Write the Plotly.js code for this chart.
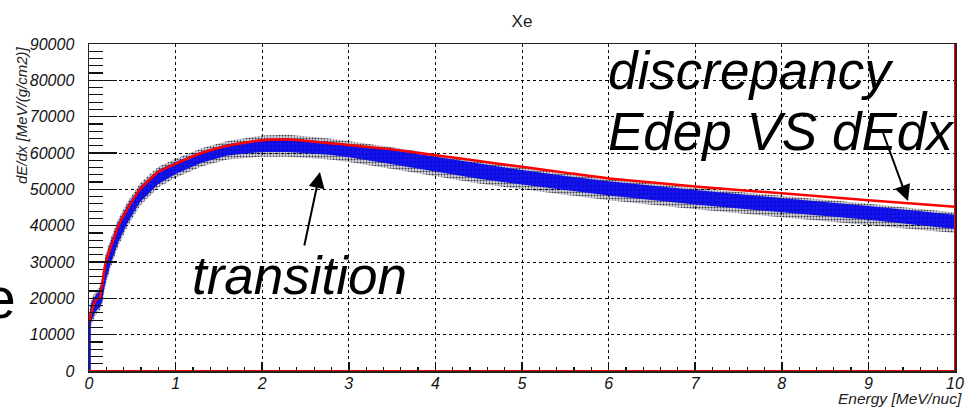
<!DOCTYPE html>
<html>
<head>
<meta charset="utf-8">
<script src="https://cdn.plot.ly/plotly-3.0.1.min.js"></script>
<style>html,body{margin:0;padding:0;background:#fff;}#chart{width:967px;height:407px;}</style>
</head>
<body>
<div id="chart"></div>
<script>
// ---- data ----
const chartTitle = "Xe";
const xTitle = "Energy [MeV/nuc]";
const yTitle = "dE/dx [MeV/(g/cm2)]";

// red curve (dE/dx table)
const redX = [0, 0.05, 0.08, 0.12, 0.15, 0.19, 0.25, 0.34, 0.45, 0.59, 0.8, 1.0, 1.3, 1.6, 2.0, 2.3, 2.78, 3.0, 3.5, 4.0, 4.5, 5.0, 5.5, 6.0, 7.0, 8.0, 9.0, 10.0];
const redY = [13600, 18000, 19600, 20000, 23500, 29600, 34000, 40000, 44800, 50000, 54800, 57000, 60000, 62000, 63500, 63700, 62700, 62200, 61000, 59400, 57800, 56200, 54600, 53000, 50800, 48900, 47000, 45200];
// red outline of the histogram frame (bottom and right edge)
const redFrameX = [0, 10, 10];
const redFrameY = [0, 0, 90000];

// blue Edep band (simulated points), edges
const bandX =     [0, 0.03, 0.08, 0.12, 0.15, 0.19, 0.25, 0.34, 0.45, 0.59, 0.8, 1.0, 1.3, 1.6, 2.0, 2.3, 2.78, 3.0, 3.5, 4.0, 4.5, 5.0, 5.5, 6.0, 7.0, 8.0, 9.0, 10.0];
const coreLow =   [11000, 14000, 16500, 17500, 19000, 24500, 29500, 35500, 41000, 46500, 51500, 54200, 57300, 59300, 60300, 60300, 59500, 58800, 56900, 54900, 52900, 51300, 49700, 48300, 45800, 43700, 41600, 39100];
const coreHigh =  [15000, 19000, 21000, 22000, 25000, 31000, 35500, 41000, 45800, 50800, 55300, 57500, 60400, 62400, 63800, 64000, 63000, 62400, 60800, 59000, 57000, 55300, 53700, 52200, 49800, 47700, 45400, 43000];
const outerLow =  [10000, 13000, 15500, 16500, 18000, 23500, 28500, 34500, 40000, 45500, 50500, 53200, 56300, 58200, 59000, 59000, 58200, 57500, 55600, 53500, 51600, 50000, 48400, 47000, 44500, 42400, 40300, 38000];
const outerHigh = [16000, 20000, 22000, 23000, 26000, 32000, 36500, 42000, 46800, 51700, 56200, 58400, 61300, 63300, 64800, 65000, 64000, 63300, 61600, 59700, 57700, 56000, 54300, 52800, 50400, 48300, 46000, 43600];
// low-energy stem of the band at E ~ 0
const stemX = [0.01, 0.01];
const stemY = [0, 13000];

const xTickVals = [0,1,2,3,4,5,6,7,8,9,10];
const yTickVals = [0,10000,20000,30000,40000,50000,60000,70000,80000,90000];

// ---- layout helpers (pixel -> paper) ----
const L = 89, R = 955, T = 44, B = 371;
const px = p => (p - L) / (R - L);
const py = p => (B - p) / (B - T);

const FAM = "Liberation Sans, Arial, sans-serif";
const tickFont = {family: FAM, size: 16, color: "#111", style: "italic"};
const bigFont = {family: FAM, size: 53, color: "#000", style: "italic"};
const clear = {width: 0, color: "rgba(0,0,0,0)"};

const traces = [
  {x: bandX, y: outerLow, mode: "lines", line: clear, hoverinfo: "skip"},
  {x: bandX, y: outerHigh, mode: "lines", line: clear, fill: "tonexty", fillcolor: "rgba(0,0,0,0)",
   fillpattern: {shape: ".", fgcolor: "#000", fgopacity: 0.75, bgcolor: "rgba(90,90,140,0.25)", size: 3, solidity: 0.35}, hoverinfo: "skip"},
  {x: bandX, y: coreLow, mode: "lines", line: clear, hoverinfo: "skip"},
  {x: bandX, y: coreHigh, mode: "lines", line: clear, fill: "tonexty", fillcolor: "#1010f0",
   fillpattern: {shape: ".", fgcolor: "#000020", fgopacity: 0.5, bgcolor: "#1212f2", size: 4, solidity: 0.15}, hoverinfo: "skip"},
  {x: stemX, y: stemY, mode: "lines", line: {width: 2, color: "#1414f0"}},
  {x: redFrameX, y: redFrameY, mode: "lines", line: {width: 2, color: "#ff0000"}, cliponaxis: false},
  {x: redX, y: redY, mode: "lines", line: {width: 2.5, color: "#ff0000", shape: "spline", smoothing: 0.5}}
];

const layout = {
  width: 967, height: 407,
  margin: {l: L, r: 967 - R, t: T, b: 407 - B, pad: 0},
  paper_bgcolor: "#fff", plot_bgcolor: "#fff",
  showlegend: false,
  title: {text: chartTitle, x: 522/967, xanchor: "center", y: 1 - 21/407, yanchor: "middle",
          font: {family: FAM, size: 17, color: "#222"}},
  xaxis: {
    range: [0, 10], tickvals: xTickVals, ticktext: xTickVals.map(String),
    ticks: "inside", ticklen: 9, tickwidth: 1.5, tickcolor: "#111",
    minor: {dtick: 0.2, ticks: "inside", ticklen: 4.5, tickwidth: 1.2, tickcolor: "#111", showgrid: false},
    showgrid: true, gridcolor: "#000", griddash: "dot", gridwidth: 1,
    showline: true, linecolor: "#222", linewidth: 1.5, mirror: true,
    zeroline: false, tickfont: tickFont, ticklabelstandoff: -3, fixedrange: true
  },
  yaxis: {
    range: [0, 90000], tickvals: yTickVals, ticktext: yTickVals.map(String),
    ticks: "inside", ticklen: 28, tickwidth: 1.5, tickcolor: "#111",
    minor: {dtick: 2000, ticks: "inside", ticklen: 14, tickwidth: 1.2, tickcolor: "#111", showgrid: false},
    showgrid: true, gridcolor: "#000", griddash: "dot", gridwidth: 1,
    showline: true, linecolor: "#222", linewidth: 1.5, mirror: true,
    zeroline: false, tickfont: tickFont, ticklabelstandoff: 10, fixedrange: true
  },
  annotations: [
    {text: yTitle, xref: "paper", yref: "paper", x: px(21), y: 1, xanchor: "center", yanchor: "top",
     textangle: -90, showarrow: false, font: {family: FAM, size: 15, color: "#222", style: "italic"}},
    {text: xTitle, xref: "paper", yref: "paper", x: px(964), y: py(398), xanchor: "right", yanchor: "middle",
     showarrow: false, font: {family: FAM, size: 15.5, color: "#222", style: "italic"}},
    {text: "discrepancy", xref: "paper", yref: "paper", x: px(606), y: py(70), xanchor: "left", yanchor: "middle",
     showarrow: false, font: bigFont},
    {text: "Edep VS dEdx", xref: "paper", yref: "paper", x: px(606), y: py(131), xanchor: "left", yanchor: "middle",
     showarrow: false, font: bigFont},
    {text: "transition", xref: "paper", yref: "paper", x: px(190), y: py(275), xanchor: "left", yanchor: "middle",
     showarrow: false, font: bigFont},
    {text: "e", xref: "paper", yref: "paper", x: px(18), y: py(298), xanchor: "right", yanchor: "middle",
     showarrow: false, font: {family: FAM, size: 57, color: "#000"}},
    {text: "", xref: "paper", yref: "paper", x: px(320), y: py(172), axref: "pixel", ayref: "pixel",
     ax: 304 - 320, ay: 247 - 172, showarrow: true, arrowhead: 2, arrowsize: 1.6, arrowwidth: 2, arrowcolor: "#000"},
    {text: "", xref: "paper", yref: "paper", x: px(908), y: py(201), axref: "pixel", ayref: "pixel",
     ax: 882 - 908, ay: 130 - 201, showarrow: true, arrowhead: 2, arrowsize: 1.6, arrowwidth: 2, arrowcolor: "#000"}
  ]
};

Plotly.newPlot("chart", traces, layout, {staticPlot: true, displayModeBar: false});
</script>
</body>
</html>
